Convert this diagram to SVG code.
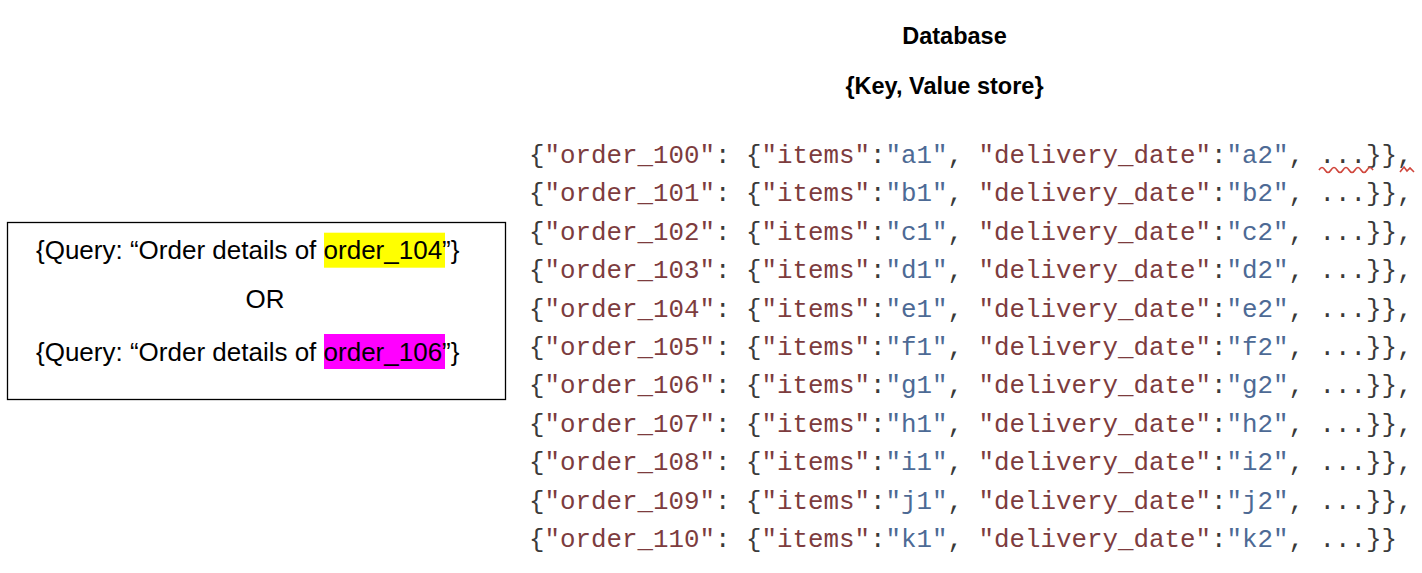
<svg xmlns="http://www.w3.org/2000/svg" width="1422" height="573" viewBox="0 0 1422 573">
<style>
.t{font-family:"Liberation Sans",Arial,sans-serif;fill:#000}
.h{font-weight:bold;font-size:23.5px}
.q{font-size:26px}
.c{font-family:"Liberation Mono","Courier New",monospace;font-size:25.83px}
.p{fill:#3a3a3a}
.k{fill:#7d3c3e}
.v{fill:#4d6a95}
</style>
<rect width="1422" height="573" fill="#fff"/>
<g id="title">
<text class="t h" x="954.5" y="44" text-anchor="middle">Database</text>
<text class="t h" x="944.5" y="94" text-anchor="middle">{Key, Value store}</text>
</g>
<g id="query">
<rect x="7.5" y="222.5" width="498" height="177" fill="none" stroke="#000" stroke-width="1.3"/>
<rect x="324" y="232.7" width="121" height="35" fill="#ffff00"/>
<rect x="324" y="334" width="121" height="35" fill="#ff00ff"/>
<text class="t q" x="36" y="259">{Query: “Order details of order_104”}</text>
<text class="t q" x="265" y="308" text-anchor="middle">OR</text>
<text class="t q" x="36" y="361">{Query: “Order details of order_106”}</text>
</g>
<g id="database" class="c">
<text x="529" y="163"><tspan class="p">{</tspan><tspan class="k">"order_100"</tspan><tspan class="p">: {</tspan><tspan class="k">"items"</tspan><tspan class="p">:</tspan><tspan class="v">"a1"</tspan><tspan class="p">, </tspan><tspan class="k">"delivery_date"</tspan><tspan class="p">:</tspan><tspan class="v">"a2"</tspan><tspan class="p">, ...}},</tspan></text>
<text x="529" y="201.4"><tspan class="p">{</tspan><tspan class="k">"order_101"</tspan><tspan class="p">: {</tspan><tspan class="k">"items"</tspan><tspan class="p">:</tspan><tspan class="v">"b1"</tspan><tspan class="p">, </tspan><tspan class="k">"delivery_date"</tspan><tspan class="p">:</tspan><tspan class="v">"b2"</tspan><tspan class="p">, ...}},</tspan></text>
<text x="529" y="239.8"><tspan class="p">{</tspan><tspan class="k">"order_102"</tspan><tspan class="p">: {</tspan><tspan class="k">"items"</tspan><tspan class="p">:</tspan><tspan class="v">"c1"</tspan><tspan class="p">, </tspan><tspan class="k">"delivery_date"</tspan><tspan class="p">:</tspan><tspan class="v">"c2"</tspan><tspan class="p">, ...}},</tspan></text>
<text x="529" y="278.2"><tspan class="p">{</tspan><tspan class="k">"order_103"</tspan><tspan class="p">: {</tspan><tspan class="k">"items"</tspan><tspan class="p">:</tspan><tspan class="v">"d1"</tspan><tspan class="p">, </tspan><tspan class="k">"delivery_date"</tspan><tspan class="p">:</tspan><tspan class="v">"d2"</tspan><tspan class="p">, ...}},</tspan></text>
<text x="529" y="316.6"><tspan class="p">{</tspan><tspan class="k">"order_104"</tspan><tspan class="p">: {</tspan><tspan class="k">"items"</tspan><tspan class="p">:</tspan><tspan class="v">"e1"</tspan><tspan class="p">, </tspan><tspan class="k">"delivery_date"</tspan><tspan class="p">:</tspan><tspan class="v">"e2"</tspan><tspan class="p">, ...}},</tspan></text>
<text x="529" y="355"><tspan class="p">{</tspan><tspan class="k">"order_105"</tspan><tspan class="p">: {</tspan><tspan class="k">"items"</tspan><tspan class="p">:</tspan><tspan class="v">"f1"</tspan><tspan class="p">, </tspan><tspan class="k">"delivery_date"</tspan><tspan class="p">:</tspan><tspan class="v">"f2"</tspan><tspan class="p">, ...}},</tspan></text>
<text x="529" y="393.4"><tspan class="p">{</tspan><tspan class="k">"order_106"</tspan><tspan class="p">: {</tspan><tspan class="k">"items"</tspan><tspan class="p">:</tspan><tspan class="v">"g1"</tspan><tspan class="p">, </tspan><tspan class="k">"delivery_date"</tspan><tspan class="p">:</tspan><tspan class="v">"g2"</tspan><tspan class="p">, ...}},</tspan></text>
<text x="529" y="431.8"><tspan class="p">{</tspan><tspan class="k">"order_107"</tspan><tspan class="p">: {</tspan><tspan class="k">"items"</tspan><tspan class="p">:</tspan><tspan class="v">"h1"</tspan><tspan class="p">, </tspan><tspan class="k">"delivery_date"</tspan><tspan class="p">:</tspan><tspan class="v">"h2"</tspan><tspan class="p">, ...}},</tspan></text>
<text x="529" y="470.2"><tspan class="p">{</tspan><tspan class="k">"order_108"</tspan><tspan class="p">: {</tspan><tspan class="k">"items"</tspan><tspan class="p">:</tspan><tspan class="v">"i1"</tspan><tspan class="p">, </tspan><tspan class="k">"delivery_date"</tspan><tspan class="p">:</tspan><tspan class="v">"i2"</tspan><tspan class="p">, ...}},</tspan></text>
<text x="529" y="508.6"><tspan class="p">{</tspan><tspan class="k">"order_109"</tspan><tspan class="p">: {</tspan><tspan class="k">"items"</tspan><tspan class="p">:</tspan><tspan class="v">"j1"</tspan><tspan class="p">, </tspan><tspan class="k">"delivery_date"</tspan><tspan class="p">:</tspan><tspan class="v">"j2"</tspan><tspan class="p">, ...}},</tspan></text>
<text x="529" y="547"><tspan class="p">{</tspan><tspan class="k">"order_110"</tspan><tspan class="p">: {</tspan><tspan class="k">"items"</tspan><tspan class="p">:</tspan><tspan class="v">"k1"</tspan><tspan class="p">, </tspan><tspan class="k">"delivery_date"</tspan><tspan class="p">:</tspan><tspan class="v">"k2"</tspan><tspan class="p">, ...}}</tspan></text>
<path d="M1319 170 q3 -5 6 0 t6 0 t6 0 t6 0 t6 0 t6 0 t6 0 t6 0 t6 0 M1400 172 l4 -5 l3 4 l3 -3 l4 4" fill="none" stroke="#d0463c" stroke-width="1.6"/>
</g>
</svg>
